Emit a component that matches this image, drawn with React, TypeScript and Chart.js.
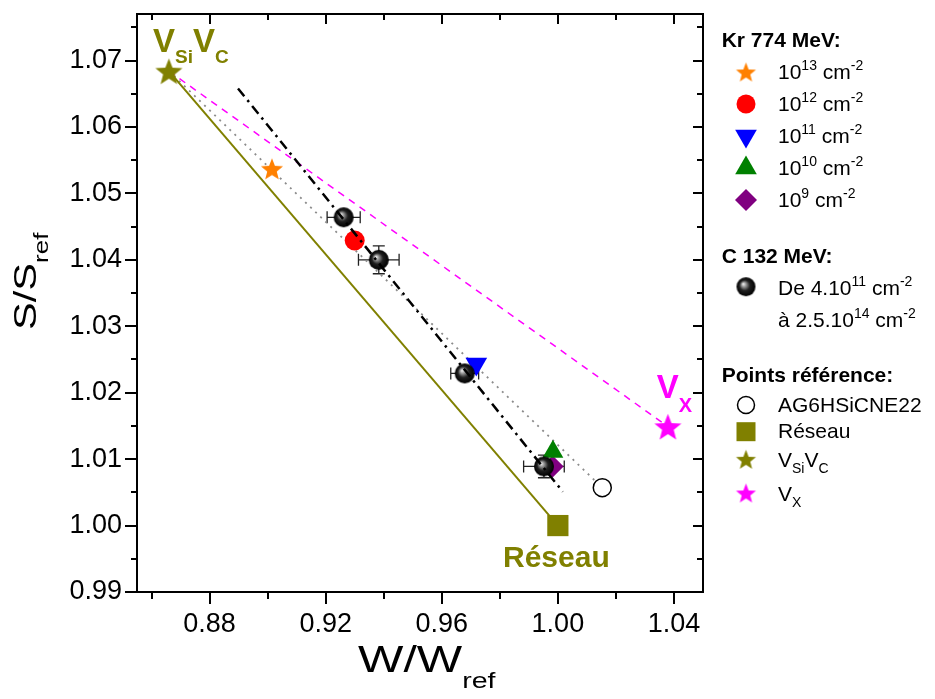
import React, { useEffect, useRef } from 'react';
import { Chart, registerables } from 'chart.js';

Chart.register(...registerables);

// ---------- data ----------
const krExponents = ['13', '12', '11', '10', '9'];
const krW = [0.9015, 0.93, 0.9719, 0.9983, 0.9982];
const krS = [1.0537, 1.0429, 1.0243, 1.0111, 1.0089];

const cW = [0.9262, 0.9383, 0.9679, 0.9952];
const cS = [1.0464, 1.04, 1.0229, 1.0089];
const cWErr = [0.0057, 0.007, 0.0048, 0.007];
const cSErr = [0.0008, 0.0021, 0.0006, 0.0017];

const refNames = ['AG6HSiCNE22', 'Réseau', 'VSiVC', 'VX'];
const refW = [1.0153, 1.0, 0.866, 1.0379];
const refS = [1.0057, 1.0, 1.0684, 1.0149];

const fitW = [0.8898, 1.0017];
const fitS = [1.0658, 1.0051];

const xTickValues = [0.86, 0.88, 0.9, 0.92, 0.94, 0.96, 0.98, 1.0, 1.02, 1.04];
const xTickLabels = ['', '0.88', '', '0.92', '', '0.96', '', '1.00', '', '1.04'];
const yTickValues = [0.99, 0.995, 1.0, 1.005, 1.01, 1.015, 1.02, 1.025, 1.03, 1.035, 1.04, 1.045, 1.05, 1.055, 1.06, 1.065, 1.07, 1.075];
const yTickLabels = ['0.99', '', '1.00', '', '1.01', '', '1.02', '', '1.03', '', '1.04', '', '1.05', '', '1.06', '', '1.07', ''];

const X_MIN = 0.855;
const X_MAX = 1.05;
const Y_MIN = 0.99;
const Y_MAX = 1.077;

// ---------- styles ----------
const FONT = "'Liberation Sans', Arial, sans-serif";
const OLIVE = '#808000';
const MAGENTA = '#ff00ff';
const krColors = ['#ff8000', '#ff0000', '#0000ff', '#008000', '#800080'];

type Part = { t: string; size: number; bold?: boolean; dy?: number };

function drawRich(ctx: CanvasRenderingContext2D, x: number, y: number, parts: Part[], color: string) {
  let cx = x;
  ctx.textAlign = 'left';
  ctx.textBaseline = 'alphabetic';
  ctx.fillStyle = color;
  for (const p of parts) {
    ctx.font = `${p.bold ? 'bold ' : ''}${p.size}px ${FONT}`;
    ctx.fillText(p.t, cx, y + (p.dy || 0));
    cx += ctx.measureText(p.t).width;
  }
  return cx - x;
}

function makeStar(color: string, R: number) {
  const s = Math.ceil(2 * R + 2);
  const c = document.createElement('canvas');
  c.width = s;
  c.height = s;
  const g = c.getContext('2d')!;
  const cx = s / 2;
  const cy = s / 2 + R * 0.1;
  g.beginPath();
  for (let i = 0; i < 10; i++) {
    const a = -Math.PI / 2 + (i * Math.PI) / 5;
    const r = i % 2 === 0 ? R : R * 0.43;
    const px = cx + Math.cos(a) * r;
    const py = cy + Math.sin(a) * r;
    if (i === 0) g.moveTo(px, py);
    else g.lineTo(px, py);
  }
  g.closePath();
  g.fillStyle = color;
  g.fill();
  return c;
}

function makeBall(R: number) {
  const s = Math.ceil(2 * R + 2);
  const c = document.createElement('canvas');
  c.width = s;
  c.height = s;
  const g = c.getContext('2d')!;
  const cx = s / 2;
  const cy = s / 2;
  const grad = g.createRadialGradient(cx - R * 0.3, cy - R * 0.3, 0, cx, cy, R);
  grad.addColorStop(0, '#ffffff');
  grad.addColorStop(0.22, '#a0a0a0');
  grad.addColorStop(0.55, '#202020');
  grad.addColorStop(1, '#000000');
  g.beginPath();
  g.arc(cx, cy, R, 0, Math.PI * 2);
  g.fillStyle = grad;
  g.fill();
  return c;
}

export default function App() {
  const ref = useRef<HTMLCanvasElement | null>(null);

  useEffect(() => {
    document.body.style.overflow = 'hidden';
    const canvas = ref.current!;
    const ballImg = makeBall(10);
    const ballLegend = makeBall(9.5);
    const starOrange = makeStar(krColors[0], 11.6);
    const starOlive = makeStar(OLIVE, 14.2);
    const starMagenta = makeStar(MAGENTA, 14.2);
    const starOrangeL = makeStar(krColors[0], 10.5);
    const starOliveL = makeStar(OLIVE, 10.5);
    const starMagentaL = makeStar(MAGENTA, 10.5);

    const pt = (xs: number[], ys: number[], i: number) => [{ x: xs[i], y: ys[i] }];

    const krStyles: any[] = [
      { pointStyle: starOrange, pointRadius: 12 },
      { pointStyle: 'circle', pointRadius: 10 },
      { pointStyle: 'triangle', pointRadius: 12.5, rotation: 180 },
      { pointStyle: 'triangle', pointRadius: 12 },
      { pointStyle: 'rectRot', pointRadius: 11 },
    ];

    const datasets: any[] = [];
    // lines (bottom)
    datasets.push({
      label: 'Réseau line',
      data: [{ x: refW[2], y: refS[2] }, { x: refW[1], y: refS[1] }],
      showLine: true, pointRadius: 0, borderColor: OLIVE, borderWidth: 2, order: 10,
    });
    datasets.push({
      label: 'VX line',
      data: [{ x: refW[2], y: refS[2] }, { x: refW[3], y: refS[3] }],
      showLine: true, pointRadius: 0, borderColor: MAGENTA, borderWidth: 1.5, borderDash: [7, 6], order: 10,
    });
    datasets.push({
      label: 'AG6 line',
      data: [{ x: refW[2], y: refS[2] }, { x: refW[0], y: refS[0] }],
      showLine: true, pointRadius: 0, borderColor: '#8c8c8c', borderWidth: 1.8, borderDash: [2, 5], order: 10,
    });
    // reference points
    datasets.push({ label: refNames[0], data: pt(refW, refS, 0), pointStyle: 'circle', pointRadius: 9, backgroundColor: '#ffffff', borderColor: '#000000', borderWidth: 1.5, order: 3 });
    datasets.push({ label: refNames[1], data: pt(refW, refS, 1), pointStyle: 'rect', pointRadius: 15, backgroundColor: OLIVE, borderColor: OLIVE, borderWidth: 0, order: 3 });
    datasets.push({ label: refNames[2], data: pt(refW, refS, 2), pointStyle: starOlive, order: 3 });
    datasets.push({ label: refNames[3], data: pt(refW, refS, 3), pointStyle: starMagenta, order: 3 });
    // Kr points
    krExponents.forEach((e, i) => {
      datasets.push({
        label: '10^' + e,
        data: pt(krW, krS, i),
        backgroundColor: krColors[i],
        borderColor: krColors[i],
        borderWidth: 0,
        order: 2,
        ...krStyles[i],
      });
    });
    // C 132 MeV balls
    datasets.push({
      label: 'C 132 MeV',
      data: cW.map((w, i) => ({ x: w, y: cS[i] })),
      pointStyle: ballImg,
      order: 1,
    });
    // linear fit (top)
    datasets.push({
      label: 'fit',
      data: fitW.map((w, i) => ({ x: w, y: fitS[i] })),
      showLine: true, pointRadius: 0, borderColor: '#000000', borderWidth: 2.5, borderDash: [10, 5, 2.5, 5], order: 0,
    });

    const errorBars = {
      id: 'errorBars',
      beforeDatasetsDraw(chart: any) {
        const { ctx, scales } = chart;
        const x = scales.x;
        const y = scales.y;
        ctx.save();
        ctx.strokeStyle = '#222222';
        ctx.lineWidth = 1.3;
        const cap = 6;
        cW.forEach((w, i) => {
          const px = x.getPixelForValue(w);
          const py = y.getPixelForValue(cS[i]);
          const x0 = x.getPixelForValue(w - cWErr[i]);
          const x1 = x.getPixelForValue(w + cWErr[i]);
          const y0 = y.getPixelForValue(cS[i] - cSErr[i]);
          const y1 = y.getPixelForValue(cS[i] + cSErr[i]);
          ctx.beginPath();
          ctx.moveTo(x0, py); ctx.lineTo(x1, py);
          ctx.moveTo(x0, py - cap); ctx.lineTo(x0, py + cap);
          ctx.moveTo(x1, py - cap); ctx.lineTo(x1, py + cap);
          ctx.moveTo(px, y0); ctx.lineTo(px, y1);
          ctx.moveTo(px - cap, y0); ctx.lineTo(px + cap, y0);
          ctx.moveTo(px - cap, y1); ctx.lineTo(px + cap, y1);
          ctx.stroke();
        });
        ctx.restore();
      },
    };

    const decor = {
      id: 'decor',
      afterDraw(chart: any) {
        const { ctx, chartArea, scales } = chart;
        const { left, right, top, bottom } = chartArea;
        ctx.save();
        // frame
        ctx.strokeStyle = '#000';
        ctx.lineWidth = 2;
        ctx.strokeRect(left, top, right - left, bottom - top);
        // ticks
        ctx.beginPath();
        xTickValues.forEach((v, i) => {
          const px = Math.round(scales.x.getPixelForValue(v));
          const major = xTickLabels[i] !== '';
          ctx.moveTo(px, bottom); ctx.lineTo(px, bottom + (major ? 12 : 7));
          ctx.moveTo(px, top); ctx.lineTo(px, top + (major ? 10 : 6));
        });
        yTickValues.forEach((v, i) => {
          const py = Math.round(scales.y.getPixelForValue(v));
          const major = yTickLabels[i] !== '';
          ctx.moveTo(left, py); ctx.lineTo(left - (major ? 12 : 6), py);
          ctx.moveTo(right, py); ctx.lineTo(right - (major ? 10 : 6), py);
        });
        ctx.stroke();

        // axis titles
        ctx.save();
        ctx.translate(27.5, 322);
        ctx.rotate(-Math.PI / 2);
        ctx.scale(1.3, 1);
        drawRich(ctx, 0, 0, [{ t: 'S/S', size: 32 }, { t: 'ref', size: 20, dy: 12 }], '#000');
        ctx.restore();

        ctx.save();
        ctx.translate(350, 664);
        ctx.scale(1.3, 1);
        drawRich(ctx, 0, 0, [{ t: 'W/W', size: 37 }, { t: 'ref', size: 22, dy: 16 }], '#000');
        ctx.restore();

        // annotations
        drawRich(ctx, 145, 44, [
          { t: 'V', size: 33, bold: true }, { t: 'Si', size: 19, bold: true, dy: 11 },
          { t: 'V', size: 33, bold: true }, { t: 'C', size: 19, bold: true, dy: 11 },
        ], OLIVE);
        drawRich(ctx, 648.7, 390, [{ t: 'V', size: 33, bold: true }, { t: 'X', size: 20, bold: true, dy: 13.7 }], MAGENTA);
        drawRich(ctx, 495, 559, [{ t: 'Réseau', size: 30, bold: true }], OLIVE);

        // legend
        const LX = 713.7;
        const SX = 738;
        const TX = 770;
        drawRich(ctx, LX, 38.7, [{ t: 'Kr 774 MeV:', size: 21, bold: true }], '#000');
        const rowsY = [64, 96, 128, 160, 192];
        krExponents.forEach((e, i) => {
          const cy = rowsY[i];
          ctx.fillStyle = krColors[i];
          if (i === 0) {
            ctx.drawImage(starOrangeL, SX - starOrangeL.width / 2, cy - starOrangeL.height / 2);
          } else if (i === 1) {
            ctx.beginPath(); ctx.arc(SX, cy, 9.5, 0, Math.PI * 2); ctx.fill();
          } else if (i === 2) {
            const r = 12.5;
            ctx.beginPath();
            ctx.moveTo(SX, cy + r);
            ctx.lineTo(SX - r * 0.866, cy - r / 2);
            ctx.lineTo(SX + r * 0.866, cy - r / 2);
            ctx.closePath(); ctx.fill();
          } else if (i === 3) {
            const r = 12.5;
            ctx.beginPath();
            ctx.moveTo(SX, cy - r);
            ctx.lineTo(SX - r * 0.866, cy + r / 2);
            ctx.lineTo(SX + r * 0.866, cy + r / 2);
            ctx.closePath(); ctx.fill();
          } else {
            const r = 11;
            ctx.beginPath();
            ctx.moveTo(SX - r, cy); ctx.lineTo(SX, cy - r); ctx.lineTo(SX + r, cy); ctx.lineTo(SX, cy + r);
            ctx.closePath(); ctx.fill();
          }
          drawRich(ctx, TX, cy + 7, [
            { t: '10', size: 21 }, { t: e, size: 14, dy: -9 },
            { t: ' cm', size: 21 }, { t: '-2', size: 14, dy: -9 },
          ], '#000');
        });

        drawRich(ctx, LX, 255, [{ t: 'C 132 MeV:', size: 21, bold: true }], '#000');
        ctx.drawImage(ballLegend, SX - ballLegend.width / 2, 278.7 - ballLegend.height / 2);
        drawRich(ctx, TX, 287, [
          { t: 'De 4.10', size: 21 }, { t: '11', size: 14, dy: -9 },
          { t: ' cm', size: 21 }, { t: '-2', size: 14, dy: -9 },
        ], '#000');
        drawRich(ctx, TX, 318.7, [
          { t: 'à 2.5.10', size: 21 }, { t: '14', size: 14, dy: -9 },
          { t: ' cm', size: 21 }, { t: '-2', size: 14, dy: -9 },
        ], '#000');

        drawRich(ctx, LX, 373.7, [{ t: 'Points référence:', size: 21, bold: true }], '#000');
        // AG6
        ctx.beginPath(); ctx.arc(SX, 397, 8.5, 0, Math.PI * 2);
        ctx.fillStyle = '#fff'; ctx.fill();
        ctx.strokeStyle = '#000'; ctx.lineWidth = 1.5; ctx.stroke();
        drawRich(ctx, TX, 403.7, [{ t: refNames[0], size: 21 }], '#000');
        // Réseau
        ctx.fillStyle = OLIVE;
        ctx.fillRect(SX - 9.5, 423.7 - 9.5, 19, 19);
        drawRich(ctx, TX, 430, [{ t: refNames[1], size: 21 }], '#000');
        // VSiVC
        ctx.drawImage(starOliveL, SX - starOliveL.width / 2, 451.3 - starOliveL.height / 2);
        drawRich(ctx, TX, 458.7, [
          { t: 'V', size: 21 }, { t: 'Si', size: 14, dy: 6 },
          { t: 'V', size: 21 }, { t: 'C', size: 14, dy: 6 },
        ], '#000');
        // VX
        ctx.drawImage(starMagentaL, SX - starMagentaL.width / 2, 485 - starMagentaL.height / 2);
        drawRich(ctx, TX, 492.7, [{ t: 'V', size: 21 }, { t: 'X', size: 14, dy: 6 }], '#000');

        ctx.restore();
      },
    };

    const tickFont = { family: FONT, size: 27 };
    const chart = new Chart(canvas, {
      type: 'scatter',
      data: { datasets },
      options: {
        responsive: false,
        animation: false,
        layout: { autoPadding: false, padding: { left: 0, top: 6, right: 224, bottom: 0 } },
        plugins: { legend: { display: false }, tooltip: { enabled: false } },
        elements: { point: { hoverRadius: 0 } },
        scales: {
          x: {
            type: 'linear',
            min: X_MIN,
            max: X_MAX,
            afterBuildTicks: (s: any) => { s.ticks = xTickValues.map((v) => ({ value: v })); },
            afterFit: (s: any) => { s.height = 107; s.paddingLeft = 0; s.paddingRight = 0; s.paddingTop = 0; s.paddingBottom = 0; },
            ticks: {
              autoSkip: false, maxRotation: 0, minRotation: 0, padding: 4, color: '#000', font: tickFont,
              callback: (v: any) => {
                const i = xTickValues.findIndex((t) => Math.abs(t - Number(v)) < 1e-9);
                return i >= 0 ? xTickLabels[i] : '';
              },
            },
            grid: { display: false, drawTicks: true, tickLength: 12 },
            border: { display: false },
          },
          y: {
            type: 'linear',
            min: Y_MIN,
            max: Y_MAX,
            afterBuildTicks: (s: any) => { s.ticks = yTickValues.map((v) => ({ value: v })); },
            afterFit: (s: any) => { s.width = 129; s.paddingLeft = 0; s.paddingRight = 0; s.paddingTop = 0; s.paddingBottom = 0; },
            ticks: {
              autoSkip: false, padding: 3, color: '#000', font: tickFont,
              callback: (v: any) => {
                const i = yTickValues.findIndex((t) => Math.abs(t - Number(v)) < 1e-9);
                return i >= 0 ? yTickLabels[i] : '';
              },
            },
            grid: { display: false, drawTicks: true, tickLength: 12 },
            border: { display: false },
          },
        },
      } as any,
      plugins: [errorBars, decor],
    });
    return () => chart.destroy();
  }, []);

  return (
    <canvas ref={ref} width={919} height={691} style={{ display: 'block', width: 919, height: 691 }} />
  );
}
